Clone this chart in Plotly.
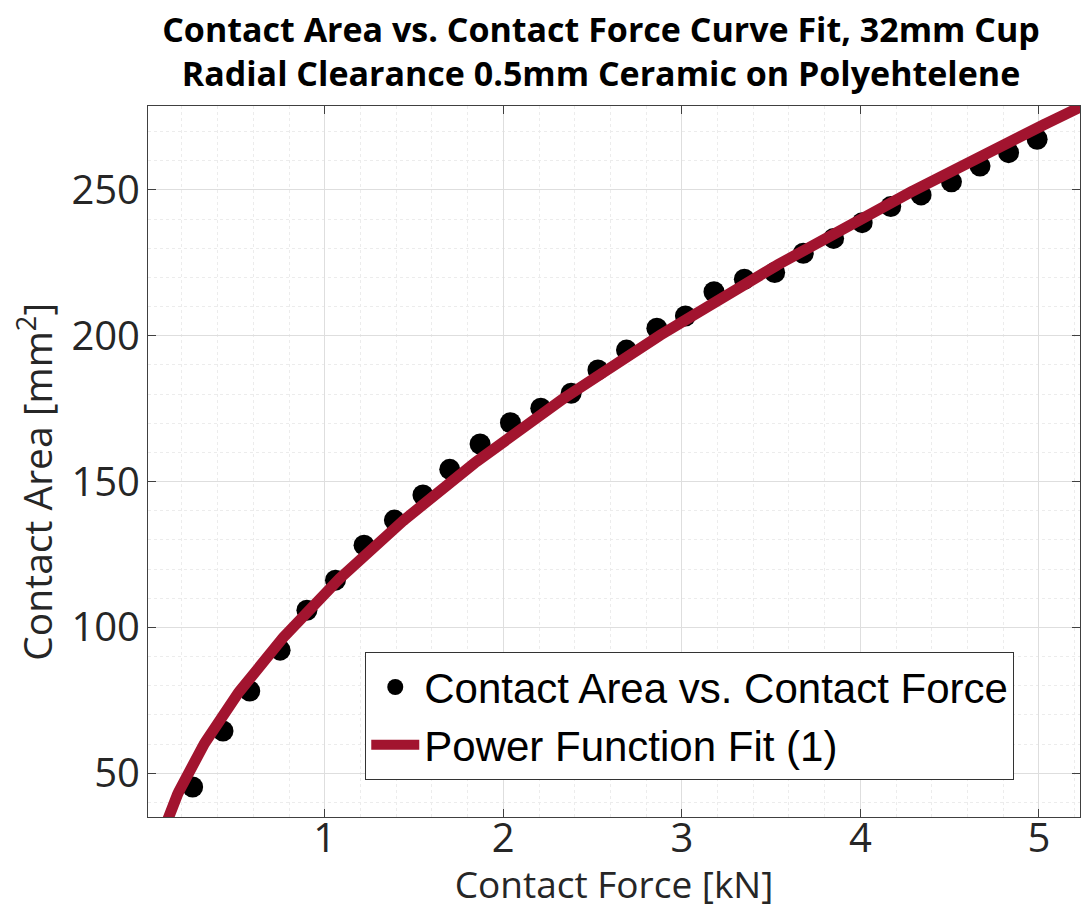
import numpy as np
import plotly.graph_objects as go

force_kN = [0.26, 0.43, 0.58, 0.75, 0.90, 1.06, 1.22, 1.39, 1.55, 1.70,
            1.87, 2.04, 2.21, 2.38, 2.53, 2.69, 2.86, 3.02, 3.18, 3.35,
            3.52, 3.68, 3.85, 4.01, 4.17, 4.34, 4.51, 4.67, 4.83, 4.99]
area_mm2 = [45.3, 64.5, 78.2, 92.2, 105.9, 116.2, 128.2, 136.8, 145.4, 154.2,
            162.9, 170.2, 175.2, 180.3, 188.3, 195.1, 202.6, 206.8, 215.1, 219.4,
            221.7, 228.3, 233.4, 238.8, 244.3, 248.3, 252.8, 258.2, 262.8, 267.4]

# Power function fit  A = a * F^b
fit_a = 111.7
fit_b = 0.552
fit_x_min, fit_x_max = 0.08, 5.3

x_ticks = [1, 2, 3, 4, 5]
y_ticks = [50, 100, 150, 200, 250]

fit_x = np.linspace(fit_x_min, fit_x_max, 600)
fit_y = fit_a * fit_x ** fit_b

W, H = 1082, 909
L, R, T, B = 147.5, 1.5, 106, 92.3

fig = go.Figure()
fig.add_trace(go.Scatter(
    x=force_kN, y=area_mm2, mode="markers",
    name="Contact Area vs. Contact Force",
    marker=dict(color="black", size=21, line=dict(width=0)),
))
fig.add_trace(go.Scatter(
    x=fit_x, y=fit_y, mode="lines",
    name="Power Function Fit (1)",
    line=dict(color="#A2142F", width=11),
))

axis_common = dict(
    showline=True, linecolor="#404040", linewidth=1, mirror="ticks",
    ticks="inside", ticklen=8, tickcolor="#404040", tickwidth=1,
    showgrid=True, gridcolor="#dedede", gridwidth=1,
    zeroline=False, automargin=False,
    tickfont=dict(family="Open Sans", size=40, color="#262626"),
)

fig.update_layout(
    width=W, height=H,
    margin=dict(l=L, r=R, t=T, b=B, pad=0, autoexpand=False),
    paper_bgcolor="white", plot_bgcolor="white",
    title=dict(
        text="Contact Area vs. Contact Force Curve Fit, 32mm Cup<br>Radial Clearance 0.5mm Ceramic on Polyehtelene",
        x=601 / W, xanchor="center", xref="container",
        y=1 - 42 / H, yanchor="top", yref="container", automargin=False,
        font=dict(family="Open Sans", size=34, color="black", weight="bold"),
    ),
    xaxis=dict(
        range=[0.01, 5.23], tickvals=x_ticks,
        ticklabelstandoff=-14,
        minor=dict(dtick=0.2, tick0=0, showgrid=True, gridcolor="#ececec",
                   griddash="dot", ticklen=0),
        title=dict(text="Contact Force [kN]", standoff=7,
                   font=dict(family="Open Sans", size=37, color="#262626")),
        **axis_common,
    ),
    yaxis=dict(
        range=[35.0, 278.8], tickvals=y_ticks,
        ticklabelstandoff=-1,
        minor=dict(dtick=10, tick0=0, showgrid=True, gridcolor="#ececec",
                   griddash="dot", ticklen=0),
        title=dict(text="Contact Area [mm<sup>2</sup>]&nbsp;&nbsp;&nbsp;&nbsp;", standoff=6,
                   font=dict(family="Open Sans", size=39, color="#262626")),
        **axis_common,
    ),
    legend=dict(
        x=(365 - L) / (W - L - R), y=(H - B - 652) / (H - T - B),
        xanchor="left", yanchor="top",
        bgcolor="white", bordercolor="#333333", borderwidth=1,
        font=dict(family="Liberation Sans", size=42, color="black"),
        itemwidth=48, itemsizing="trace", tracegroupgap=0,
    ),
    showlegend=True,
)

fig.write_html("out.html", config={"displayModeBar": False},
               post_script="document.body.style.margin='0px';")
